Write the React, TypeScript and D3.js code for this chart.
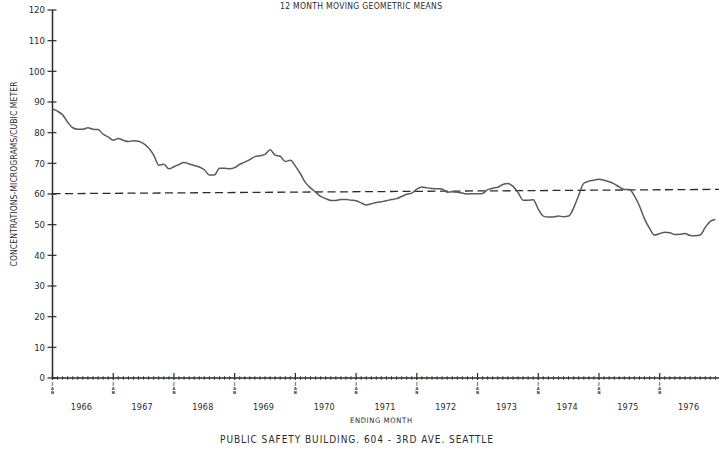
import * as d3 from "d3";

const WIDTH = 719;
const HEIGHT = 450;

const FONT = "'DejaVu Sans Condensed', 'Liberation Sans Narrow', sans-serif";
const INK = "#2b2b2b";

// 12 month moving geometric means, one value per ending month, Jan 1966 .. Dec 1976
const means1966 = [87.7, 87.0, 85.8, 83.4, 81.6, 81.1, 81.1, 81.6, 81.1, 81.0, 79.5, 78.6];
const means1967 = [77.5, 78.1, 77.5, 77.1, 77.4, 77.2, 76.4, 75.0, 72.7, 69.4, 69.7, 68.2];
const means1968 = [68.9, 69.6, 70.3, 69.8, 69.3, 68.8, 67.9, 66.2, 66.2, 68.4, 68.4, 68.2];
const means1969 = [68.6, 69.7, 70.4, 71.2, 72.2, 72.5, 72.9, 74.4, 72.7, 72.3, 70.6, 71.0];
const means1970 = [69.1, 66.6, 63.7, 62.0, 60.6, 59.2, 58.5, 57.9, 57.9, 58.2, 58.2, 58.0];
const means1971 = [57.8, 57.1, 56.4, 56.8, 57.2, 57.5, 57.8, 58.2, 58.5, 59.2, 59.9, 60.3];
const means1972 = [61.6, 62.3, 62.0, 61.8, 61.7, 61.6, 60.6, 60.7, 60.6, 60.3, 60.0, 60.1];
const means1973 = [60.1, 60.2, 61.4, 61.9, 62.2, 63.1, 63.4, 62.5, 60.5, 58.0, 58.0, 58.1];
const means1974 = [55.1, 52.8, 52.5, 52.5, 52.8, 52.6, 52.8, 55.5, 59.6, 63.5, 64.2, 64.5];
const means1975 = [64.8, 64.5, 64.0, 63.3, 62.3, 61.5, 61.5, 59.4, 56.1, 51.9, 48.8, 46.6];
const means1976 = [47.1, 47.5, 47.4, 46.8, 46.9, 47.1, 46.5, 46.4, 46.6, 49.1, 51.1, 51.7];

const years = [1966, 1967, 1968, 1969, 1970, 1971, 1972, 1973, 1974, 1975, 1976];
const yTicks = [0, 10, 20, 30, 40, 50, 60, 70, 80, 90, 100, 110, 120];
// dashed trend line, value at first and last month
const trendEnds = [60.1, 61.5];

const values = [
  ...means1966, ...means1967, ...means1968, ...means1969, ...means1970, ...means1971,
  ...means1972, ...means1973, ...means1974, ...means1975, ...means1976,
];

export default function App() {
  const left = 52.5;
  const monthW = 5.06;

  const x = d3.scaleLinear().domain([0, 132]).range([left, left + 132 * monthW]);
  const y = d3.scaleLinear().domain([0, 120]).range([378, 10]);

  const line = d3
    .line<number>()
    .x((_, i) => x(i))
    .y((d) => y(d))
    .curve(d3.curveMonotoneX);

  const nMonths = values.length;
  const monthTicks = d3.range(0, 134);
  const slope = (trendEnds[1] - trendEnds[0]) / (nMonths - 1);

  return (
    <svg
      width={WIDTH}
      height={HEIGHT}
      style={{ position: "absolute", left: 0, top: 0, background: "#fff" }}
      fontFamily={FONT}
    >
      {/* title */}
      <text x={361} y={8.5} textAnchor="middle" fontSize={8.5} fill={INK} textLength={162} lengthAdjust="spacing">
        12 MONTH MOVING GEOMETRIC MEANS
      </text>

      {/* y axis */}
      <line x1={left} x2={left} y1={y(0)} y2={y(120)} stroke={INK} strokeWidth={1.5} />
      {yTicks.map((t) => (
        <g key={t}>
          <line x1={left - 5} x2={left + 4} y1={y(t)} y2={y(t)} stroke={INK} strokeWidth={1.2} />
          <text x={45} y={y(t)} dy="0.35em" textAnchor="end" fontSize={9.5} fill={INK}>
            {t}
          </text>
        </g>
      ))}
      <text
        transform={`translate(14, 174) rotate(-90)`}
        textAnchor="middle"
        dy="0.35em"
        fontSize={8.5}
        fill={INK}
        textLength={185}
        lengthAdjust="spacing"
      >
        CONCENTRATIONS-MICROGRAMS/CUBIC METER
      </text>

      {/* x axis */}
      <line x1={left} x2={WIDTH} y1={y(0)} y2={y(0)} stroke={INK} strokeWidth={1.5} />
      {monthTicks.map((m) =>
        m % 12 === 0 ? (
          <line key={m} x1={x(m)} x2={x(m)} y1={y(0) - 5} y2={y(0) + 2} stroke={INK} strokeWidth={1.2} />
        ) : (
          <line key={m} x1={x(m)} x2={x(m)} y1={y(0) - 1.8} y2={y(0) + 1.8} stroke={INK} strokeWidth={0.9} />
        )
      )}
      {years.map((yr, i) => (
        <g key={yr}>
          {["J", "A", "N"].map((c, k) => (
            <text
              key={k}
              x={x(i * 12)}
              y={385 + k * 4.7}
              textAnchor="middle"
              fontSize={4.1}
              fontWeight="bold"
              fill={INK}
            >
              {c}
            </text>
          ))}
          <text x={x(i * 12 + 6) - 1.5} y={410} textAnchor="middle" fontSize={9} fill={INK} textLength={21} lengthAdjust="spacing">
            {yr}
          </text>
        </g>
      ))}
      <text x={381} y={423} textAnchor="middle" fontSize={7.5} fill={INK} textLength={62} lengthAdjust="spacing">
        ENDING MONTH
      </text>
      <text x={356.5} y={443} textAnchor="middle" fontSize={10} fill={INK} textLength={273} lengthAdjust="spacing">
        PUBLIC SAFETY BUILDING. 604 - 3RD AVE. SEATTLE
      </text>

      {/* trend line */}
      <line
        x1={x(0)}
        x2={x(nMonths + 1)}
        y1={y(trendEnds[0])}
        y2={y(trendEnds[0] + slope * (nMonths + 1))}
        stroke={INK}
        strokeWidth={1.3}
        strokeDasharray="8,4.5"
      />

      {/* data */}
      <path d={line(values) ?? ""} fill="none" stroke="#5a5a5a" strokeWidth={1.5} strokeLinejoin="round" />
    </svg>
  );
}
